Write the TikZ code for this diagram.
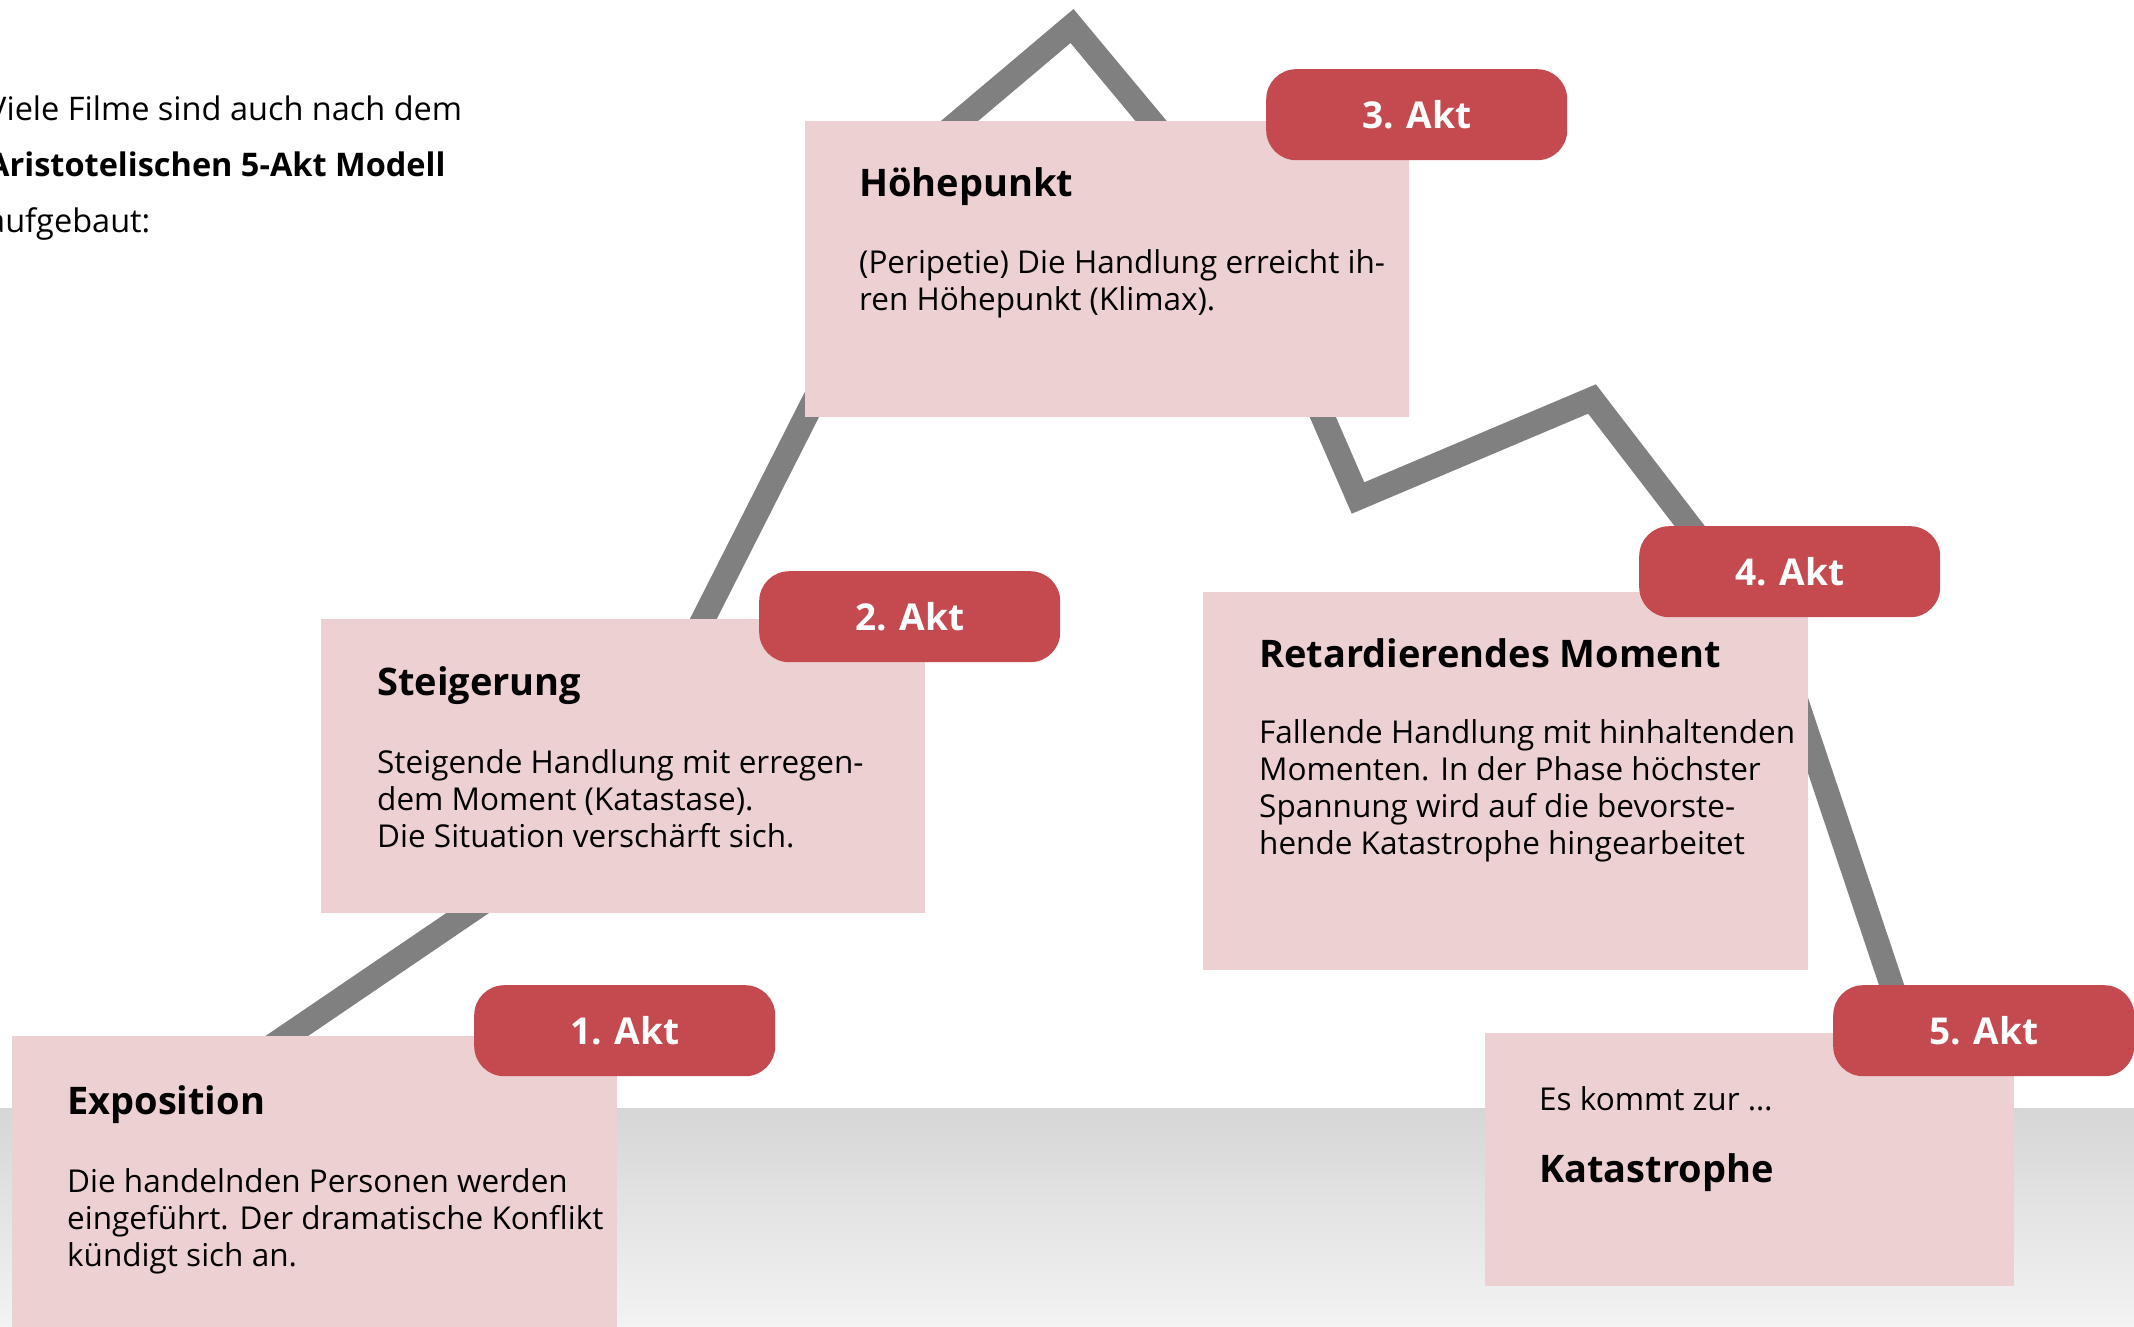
\documentclass[tikz,border=0pt]{standalone}
\usepackage{fontspec}
\setmainfont{Open Sans}
\usepackage{tikz}
\usetikzlibrary{positioning}

\definecolor{boxpink}{RGB}{237,208,210}
\definecolor{tagred}{RGB}{196,74,80}
\definecolor{linegray}{RGB}{128,128,128}
\definecolor{bandtop}{RGB}{214,214,214}
\definecolor{bandbottom}{RGB}{243,243,243}

\newcommand{\bodyfont}{\fontsize{31.5}{37}\selectfont}
\newcommand{\headfont}{\fontsize{38}{44}\selectfont\bfseries}
\newcommand{\tagfont}{\fontsize{37}{40}\selectfont\bfseries}
\newcommand{\introfont}{\fontsize{32.5}{56}\selectfont}

\tikzset{
  aktbox/.style={fill=boxpink, inner sep=0pt, anchor=north west},
  akttag/.style={fill=tagred, rounded corners=30pt, text=white, font=\tagfont,
    minimum width=301pt, minimum height=91pt, inner sep=0pt, anchor=north west},
  headtext/.style={anchor=base west, inner sep=0pt, font=\headfont},
  bodytext/.style={anchor=base west, inner sep=0pt, align=left, font=\bodyfont},
  plotline/.style={line width=24pt, color=linegray, line join=miter}
}

\begin{document}
\begin{tikzpicture}[line cap=butt,x=1pt,y=-1pt]
      \useasboundingbox (0,0) rectangle (2134,1327);
      \clip (0,0) rectangle (2134,1327);
      \shade[top color=bandtop,bottom color=bandbottom] (0,1108) rectangle (2134,1327);
      % intro text (base = last line)
      \node[anchor=base west,inner sep=0pt,align=left,font=\introfont] (intro) at (-13,232)
        {Viele Filme sind auch nach dem\\ \textbf{Aristotelischen 5-Akt Modell}\\ aufgebaut:};
      % the curve of the plot
      \coordinate (l0) at (200,1095);
      \coordinate (l1) at (600,823);
      \coordinate (l2) at (880,270);
      \coordinate (l3) at (866,200);
      \coordinate (l4) at (1072,26);
      \coordinate (l5) at (1241,229);
      \coordinate (l6) at (1358,498);
      \coordinate (l7) at (1592,399);
      \coordinate (l8) at (1775,637);
      \coordinate (l9) at (1910,1040);
      \draw[plotline] (l0) -- (l1) -- (l2) (l3) -- (l4) -- (l5) -- (l6) -- (l7) -- (l8) -- (l9);
      % boxes
      \node[aktbox,minimum width=605pt,minimum height=291pt] (expo) at (12,1036) {};
      \node[aktbox,minimum width=604pt,minimum height=294pt] (steig) at (321,619) {};
      \node[aktbox,minimum width=604pt,minimum height=296pt] (hoehe) at (805,121) {};
      \node[aktbox,minimum width=605pt,minimum height=378pt] (retard) at (1203,592) {};
      \node[aktbox,minimum width=529pt,minimum height=253pt] (kata) at (1485,1033) {};
      % tags
      \node[akttag] (akt1) at (474,985) {1. Akt};
      \node[akttag] (akt2) at (759,571) {2. Akt};
      \node[akttag] (akt3) at (1266,69) {3. Akt};
      \node[akttag] (akt4) at (1639,526) {4. Akt};
      \node[akttag] (akt5) at (1833,985) {5. Akt};
      % texts (body nodes sit on the baseline of their last line)
      \node[headtext] (expoHead) at ([shift={(55,78)}]expo.north west) {Exposition};
      \node[bodytext] (expoText) at ([shift={(55,230)}]expo.north west)
        {Die handelnden Personen werden\\ eingeführt. Der dramatische Konflikt\\ kündigt sich an.};
      \node[headtext] (steigHead) at ([shift={(56,76)}]steig.north west) {Steigerung};
      \node[bodytext] (steigText) at ([shift={(56,228)}]steig.north west)
        {Steigende Handlung mit erregen-\\ dem Moment (Katastase).\\ Die Situation verschärft sich.};
      \node[headtext] (hoeheHead) at ([shift={(54,75)}]hoehe.north west) {Höhepunkt};
      \node[bodytext] (hoeheText) at ([shift={(54,189)}]hoehe.north west)
        {(Peripetie) Die Handlung erreicht ih-\\ ren Höhepunkt (Klimax).};
      \node[headtext] (retardHead) at ([shift={(56,75)}]retard.north west) {Retardierendes Moment};
      \node[bodytext] (retardText) at ([shift={(56,262)}]retard.north west)
        {Fallende Handlung mit hinhaltenden\\ Momenten. In der Phase höchster\\ Spannung wird auf die bevorste-\\ hende Katastrophe hingearbeitet};
      \node[bodytext] (kataText) at ([shift={(54,77)}]kata.north west) {Es kommt zur \dots};
      \node[headtext] (kataHead) at ([shift={(54,149)}]kata.north west) {Katastrophe};
\end{tikzpicture}
\end{document}
